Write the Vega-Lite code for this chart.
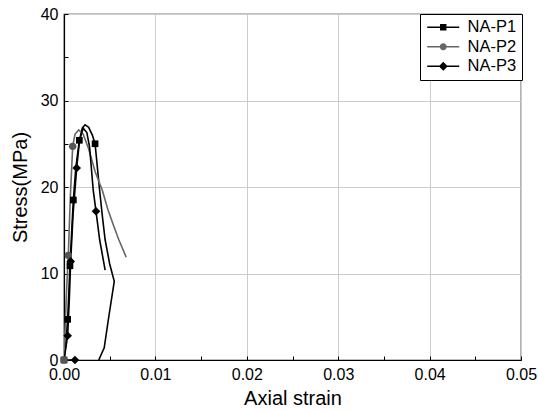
{
  "$schema": "https://vega.github.io/schema/vega-lite/v6.json",
  "width": 457,
  "height": 346,
  "autosize": "none",
  "padding": {"left": 64, "top": 14, "right": 17, "bottom": 52},
  "background": "white",
  "config": {
    "font": "Liberation Sans",
    "view": {"stroke": "black", "strokeWidth": 1.2},
    "axis": {
      "labelFont": "Liberation Sans",
      "labelFontSize": 16,
      "labelColor": "black",
      "titleFont": "Liberation Sans",
      "titleFontSize": 20,
      "titleFontWeight": "normal",
      "titleColor": "black",
      "domainColor": "black",
      "domainWidth": 1.2,
      "tickColor": "black",
      "tickWidth": 1,
      "tickSize": -4,
      "gridColor": "#cccccc",
      "gridWidth": 1
    },
    "legend": {
      "title": null,
      "orient": "none",
      "legendX": 356,
      "legendY": 0,
      "padding": 5,
      "strokeColor": "black",
      "fillColor": "white",
      "cornerRadius": 0,
      "labelFont": "Liberation Sans",
      "labelFontSize": 16.5,
      "labelColor": "black",
      "labelOffset": 26,
      "labelLimit": 200,
      "rowPadding": 2.5,
      "symbolSize": 144
    }
  },
  "data": {
    "values": [
      {"s": "NA-P1", "i": 0, "x": 0.0, "y": 0.0, "m": 1},
      {"s": "NA-P1", "i": 1, "x": 0.0002, "y": 1.8, "m": 0},
      {"s": "NA-P1", "i": 2, "x": 0.0004, "y": 4.7, "m": 1},
      {"s": "NA-P1", "i": 3, "x": 0.00053, "y": 7.8, "m": 0},
      {"s": "NA-P1", "i": 4, "x": 0.00065, "y": 10.9, "m": 1},
      {"s": "NA-P1", "i": 5, "x": 0.00085, "y": 15.0, "m": 0},
      {"s": "NA-P1", "i": 6, "x": 0.00102, "y": 18.5, "m": 1},
      {"s": "NA-P1", "i": 7, "x": 0.0013, "y": 22.3, "m": 0},
      {"s": "NA-P1", "i": 8, "x": 0.00168, "y": 25.4, "m": 1},
      {"s": "NA-P1", "i": 9, "x": 0.002, "y": 26.8, "m": 0},
      {"s": "NA-P1", "i": 10, "x": 0.0023, "y": 27.2, "m": 0},
      {"s": "NA-P1", "i": 11, "x": 0.0027, "y": 26.9, "m": 0},
      {"s": "NA-P1", "i": 12, "x": 0.0031, "y": 26.0, "m": 0},
      {"s": "NA-P1", "i": 13, "x": 0.0034, "y": 25.0, "m": 1},
      {"s": "NA-P1", "i": 14, "x": 0.00365, "y": 22.3, "m": 0},
      {"s": "NA-P1", "i": 15, "x": 0.0039, "y": 19.6, "m": 0},
      {"s": "NA-P1", "i": 16, "x": 0.0042, "y": 16.6, "m": 0},
      {"s": "NA-P1", "i": 17, "x": 0.0045, "y": 13.9, "m": 0},
      {"s": "NA-P1", "i": 18, "x": 0.005, "y": 11.1, "m": 0},
      {"s": "NA-P1", "i": 19, "x": 0.0055, "y": 9.1, "m": 0},
      {"s": "NA-P1", "i": 20, "x": 0.0049, "y": 5.0, "m": 0},
      {"s": "NA-P1", "i": 21, "x": 0.0044, "y": 1.4, "m": 0},
      {"s": "NA-P1", "i": 22, "x": 0.0038, "y": 0.0, "m": 0},
      {"s": "NA-P2", "i": 0, "x": 0.0, "y": 0.0, "m": 1},
      {"s": "NA-P2", "i": 1, "x": 0.0001, "y": 3.0, "m": 0},
      {"s": "NA-P2", "i": 2, "x": 0.00028, "y": 8.0, "m": 0},
      {"s": "NA-P2", "i": 3, "x": 0.00047, "y": 12.1, "m": 1},
      {"s": "NA-P2", "i": 4, "x": 0.0007, "y": 19.0, "m": 0},
      {"s": "NA-P2", "i": 5, "x": 0.00095, "y": 24.7, "m": 1},
      {"s": "NA-P2", "i": 6, "x": 0.0012, "y": 26.1, "m": 0},
      {"s": "NA-P2", "i": 7, "x": 0.0016, "y": 26.6, "m": 0},
      {"s": "NA-P2", "i": 8, "x": 0.0021, "y": 26.1, "m": 0},
      {"s": "NA-P2", "i": 9, "x": 0.0027, "y": 24.4, "m": 0},
      {"s": "NA-P2", "i": 10, "x": 0.0034, "y": 21.8, "m": 0},
      {"s": "NA-P2", "i": 11, "x": 0.0042, "y": 19.6, "m": 0},
      {"s": "NA-P2", "i": 12, "x": 0.0048, "y": 17.4, "m": 0},
      {"s": "NA-P2", "i": 13, "x": 0.0054, "y": 15.6, "m": 0},
      {"s": "NA-P2", "i": 14, "x": 0.006, "y": 13.9, "m": 0},
      {"s": "NA-P2", "i": 15, "x": 0.0068, "y": 11.9, "m": 0},
      {"s": "NA-P3", "i": 0, "x": 0.0012, "y": 0.0, "m": 1},
      {"s": "NA-P3", "i": 1, "x": 0.0, "y": 0.0, "m": 0},
      {"s": "NA-P3", "i": 2, "x": 0.0004, "y": 2.8, "m": 1},
      {"s": "NA-P3", "i": 3, "x": 0.00058, "y": 7.0, "m": 0},
      {"s": "NA-P3", "i": 4, "x": 0.00073, "y": 11.4, "m": 1},
      {"s": "NA-P3", "i": 5, "x": 0.001, "y": 17.0, "m": 0},
      {"s": "NA-P3", "i": 6, "x": 0.00139, "y": 22.2, "m": 1},
      {"s": "NA-P3", "i": 7, "x": 0.0017, "y": 25.4, "m": 0},
      {"s": "NA-P3", "i": 8, "x": 0.0021, "y": 26.8, "m": 0},
      {"s": "NA-P3", "i": 9, "x": 0.0025, "y": 26.3, "m": 0},
      {"s": "NA-P3", "i": 10, "x": 0.0028, "y": 24.6, "m": 0},
      {"s": "NA-P3", "i": 11, "x": 0.0032, "y": 19.6, "m": 0},
      {"s": "NA-P3", "i": 12, "x": 0.0035, "y": 17.2, "m": 1},
      {"s": "NA-P3", "i": 13, "x": 0.0039, "y": 13.9, "m": 0},
      {"s": "NA-P3", "i": 14, "x": 0.0045, "y": 10.4, "m": 0}
    ]
  },
  "layer": [
    {
      "mark": {"type": "line", "strokeWidth": 1.6, "clip": true},
      "encoding": {
        "x": {
          "field": "x", "type": "quantitative",
          "scale": {"domain": [0, 0.05], "nice": false, "zero": false},
          "axis": {
            "title": "Axial strain",
            "values": [0, 0.005, 0.01, 0.015, 0.02, 0.025, 0.03, 0.035, 0.04, 0.045, 0.05],
            "labelExpr": "abs(datum.value*100 - round(datum.value*100)) < 0.001 ? format(datum.value, '.2f') : ''",
            "gridOpacity": {"condition": {"test": "abs(datum.value*100 - round(datum.value*100)) < 0.001", "value": 1}, "value": 0},
            "labelPadding": 10,
            "labelFlush": false,
            "titlePadding": 6
          }
        },
        "y": {
          "field": "y", "type": "quantitative",
          "scale": {"domain": [0, 40], "nice": false},
          "axis": {
            "title": "Stress(MPa)",
            "values": [0, 5, 10, 15, 20, 25, 30, 35, 40],
            "labelExpr": "datum.value % 10 === 0 ? format(datum.value, 'd') : ''",
            "gridOpacity": {"condition": {"test": "datum.value % 10 === 0", "value": 1}, "value": 0},
            "labelPadding": 10,
            "labelFlush": false,
            "titlePadding": 10
          }
        },
        "color": {
          "field": "s", "type": "nominal",
          "scale": {"domain": ["NA-P1", "NA-P2", "NA-P3"], "range": ["#000000", "#666666", "#000000"]},
          "legend": {
            "encode": {
              "symbols": {
                "update": {
                  "shape": {"signal": "datum.value === 'NA-P1' ? 'M-1,-0.12 L4.333,-0.12 L4.333,0.12 L-1,0.12 Z M1.13,-0.53 L2.2,-0.53 L2.2,0.53 L1.13,0.53 Z' : datum.value === 'NA-P2' ? 'M-1,-0.12 L4.333,-0.12 L4.333,0.12 L-1,0.12 Z M2.247,0 A0.58,0.58 0 1,1 1.087,0 A0.58,0.58 0 1,1 2.247,0 Z' : 'M-1,-0.12 L4.333,-0.12 L4.333,0.12 L-1,0.12 Z M1.667,-0.75 L2.417,0 L1.667,0.75 L0.917,0 Z'"},
                  "fill": {"signal": "datum.value === 'NA-P2' ? '#666666' : '#000000'"},
                  "stroke": {"value": "transparent"},
                  "strokeWidth": {"value": 0},
                  "opacity": {"value": 1},
                  "size": {"value": 144}
                }
              }
            }
          }
        },
        "detail": {"field": "s"},
        "order": {"field": "i", "type": "quantitative"}
      }
    },
    {
      "transform": [{"filter": "datum.m === 1 && datum.s === 'NA-P1'"}],
      "mark": {"type": "point", "shape": "square", "filled": true, "opacity": 1, "size": 45, "color": "#000000", "clip": false},
      "encoding": {
        "x": {"field": "x", "type": "quantitative"},
        "y": {"field": "y", "type": "quantitative"}
      }
    },
    {
      "transform": [{"filter": "datum.m === 1 && datum.s === 'NA-P2'"}],
      "mark": {"type": "point", "shape": "circle", "filled": true, "opacity": 1, "size": 55, "color": "#555555", "clip": false},
      "encoding": {
        "x": {"field": "x", "type": "quantitative"},
        "y": {"field": "y", "type": "quantitative"}
      }
    },
    {
      "transform": [{"filter": "datum.m === 1 && datum.s === 'NA-P3'"}],
      "mark": {"type": "point", "shape": "diamond", "filled": true, "opacity": 1, "size": 75, "color": "#000000", "clip": false},
      "encoding": {
        "x": {"field": "x", "type": "quantitative"},
        "y": {"field": "y", "type": "quantitative"}
      }
    }
  ]
}
